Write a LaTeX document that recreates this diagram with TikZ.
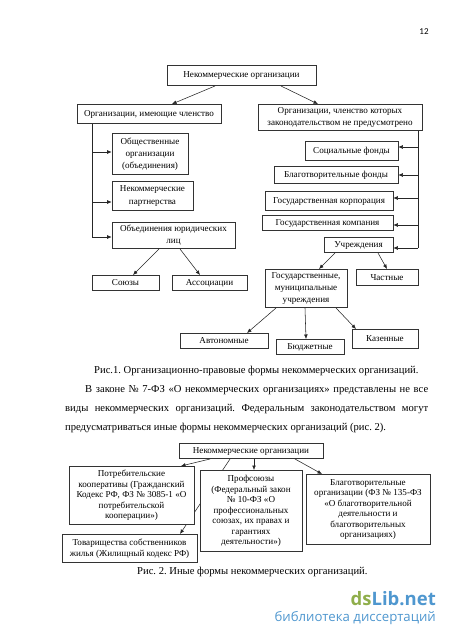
\documentclass[tikz,border=0pt]{standalone}
\usepackage{fontspec}
\setmainfont{Liberation Serif}
\newfontfamily\wmfont{Open Sans}
\newfontfamily\numfont{Carlito}
\usetikzlibrary{backgrounds,arrows.meta}
\definecolor{dsgreen}{HTML}{8FAE4B}
\definecolor{dsblue}{HTML}{4F97CF}
\newcommand{\orgskip}{12.2}
\tikzset{
  orgbox/.style={draw=black!80,fill=white,line width=0.6pt,align=center,font=\fontsize{9.1}{\orgskip}\selectfont,inner sep=0pt},
  link/.style={-{Latex[length=4.5pt,width=3.8pt]},black!85,line width=0.55pt},
  bodyline/.style={anchor=base west,inner sep=0pt,font=\fontsize{10.6}{12}\selectfont},
}
% one box from its pixel corners: name, left, top, right, bottom, text
\newcommand{\orgnode}[6]{\node[orgbox,minimum width=#4pt-#2pt,minimum height=#5pt-#3pt] (#1) at ({(#2+#4)/2},{(#3+#5+1)/2}) {#6};}
\begin{document}
\frenchspacing
\begin{tikzpicture}[x=1pt,y=-1pt]
\useasboundingbox (0,0) rectangle (450,637);
\node[inner sep=0pt,font=\fontsize{9}{10}\selectfont\numfont] (pagenum) at (424,32) {12};

% --- figure 1, left side
\orgnode{root}{167}{65}{316}{85}{Некоммерческие организации}
\orgnode{member}{77}{104}{221}{123}{Организации, имеющие членство}
\orgnode{obsh}{112}{133}{188}{174}{Общественные\\организации\\(объединения)}
\orgnode{partner}{112}{181}{193}{210}{Некоммерческие\\партнерства}
\orgnode{union}{112}{222}{235}{248}{Объединения юридических\\лиц}
\orgnode{soyuz}{92}{275}{159}{290}{Союзы}
\orgnode{assoc}{172}{275}{247}{290}{Ассоциации}

% --- figure 1, right side
\orgnode{nomember}{258}{104}{422}{130}{Организации, членство которых\\законодательством не предусмотрено}
\orgnode{social}{305}{141}{398}{160}{Социальные фонды}
\orgnode{charity}{274}{166}{398}{183}{Благотворительные фонды}
\orgnode{corp}{265}{191}{393}{210}{Государственная корпорация}
\orgnode{company}{262}{215}{393}{230}{Государственная компания}
\orgnode{inst}{324}{237}{393}{252}{Учреждения}
\orgnode{state}{265}{269}{347}{307}{Государственные,\\муниципальные\\учреждения}
\orgnode{private}{356}{269}{418}{285}{Частные}
\orgnode{auto}{180}{333}{268}{348}{Автономные}
\orgnode{budget}{276}{339}{344}{354}{Бюджетные}
\orgnode{treasury}{352}{329}{418}{348}{Казенные}

\coordinate (rootl) at (215,86);
\coordinate (rootr) at (281,86);
\coordinate (memberl) at (172,104);
\coordinate (nomemberl) at (318,104);
\draw[link] (rootl) -- (memberl);
\draw[link] (rootr) -- (nomemberl);

\coordinate (ltop) at (92,124);
\coordinate (lbot) at (92,237);
\draw[black!85,line width=0.55pt] (ltop) -- (lbot);
\draw[link] (92,152) -- (obsh.west |- 0,152);
\draw[link] (92,202) -- (partner.west |- 0,202);
\draw[link] (lbot) -- (union.west |- lbot);

\draw[link] (159,249) -- (133,275);
\draw[link] (180,249) -- (200,275);

\coordinate (rtop) at (418,131);
\coordinate (rbot) at (418,248);
\draw[black!85,line width=0.55pt] (rtop) -- (rbot);
\draw[link] (418,147) -- (social.east |- 0,147);
\draw[link] (418,175) -- (charity.east |- 0,175);
\draw[link] (418,198) -- (corp.east |- 0,198);
\draw[link] (418,225) -- (company.east |- 0,225);
\draw[link] (rbot) -- (inst.east |- rbot);

\draw[link] (335,253) -- (319,269);
\draw[link] (378,253) -- (387,269);
\draw[link] (276,308) -- (247,333);
\draw[link] (305,308) -- (306,339);
\draw[link] (336,308) -- (356,329);

% --- text between the figures
\node[bodyline] (cap1) at (94,373) {Рис.1. Организационно-правовые формы некоммерческих организаций.};
\node[bodyline] (line1) at (85,392) {\makebox[343pt][s]{В законе № 7-ФЗ «О некоммерческих организациях» представлены не все}};
\node[bodyline] (line2) at (65,411) {\makebox[363pt][s]{виды некоммерческих организаций. Федеральным законодательством могут}};
\node[bodyline] (line3) at (65,430) {предусматриваться иные формы некоммерческих организаций (рис. 2).};

% --- figure 2
\renewcommand{\orgskip}{10.5}
\orgnode{root2}{179}{443}{323}{458}{Некоммерческие организации}
\orgnode{consumer}{69}{466}{194}{524}{Потребительские\\кооперативы (Гражданский\\Кодекс РФ, ФЗ № 3085-1 «О\\потребительской\\кооперации»)}
\orgnode{housing}{62}{534}{197}{562}{Товарищества собственников\\жилья (Жилищный кодекс РФ)}
\orgnode{trade}{200}{470}{302}{551}{Профсоюзы\\(Федеральный закон\\№ 10-ФЗ «О\\профессиональных\\союзах, их правах и\\гарантиях\\деятельности»)}
\orgnode{charity2}{306}{474}{430}{544}{Благотворительные\\организации (ФЗ № 135-ФЗ\\«О благотворительной\\деятельности и\\благотворительных\\организациях)}

\draw[link] (210,459) -- (181,466);
\draw[link] (254,459) -- (254,470);
\draw[link] (295,459) -- (322,474);
\begin{scope}[on background layer]
\draw[link] (230,459) -- (180,534); % hidden behind the boxes
\end{scope}

\node[bodyline] (cap2) at (137,574) {Рис. 2. Иные формы некоммерческих организаций.};

% --- watermark
\node[anchor=base east,inner sep=0pt,font=\fontsize{18.5}{24}\selectfont\wmfont\bfseries] (wm1) at (436,605) {\textcolor{dsgreen}{ds}\textcolor{dsblue}{Lib.net}};
\node[anchor=base east,inner sep=0pt,text=dsblue,font=\fontsize{13.2}{15}\selectfont\wmfont] (wm2) at (436,621) {библиотека диссертаций};
\end{tikzpicture}
\end{document}
